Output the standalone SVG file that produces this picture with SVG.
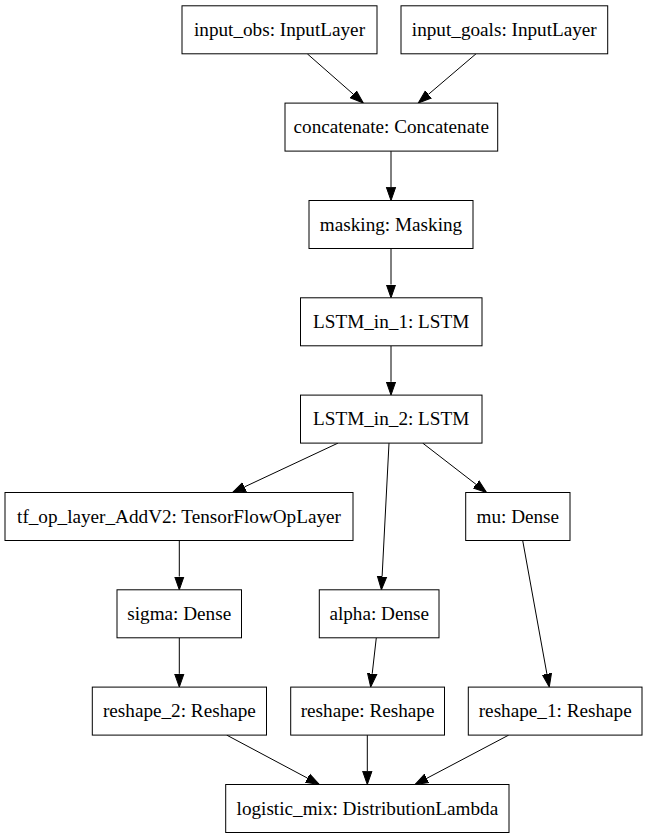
<svg xmlns="http://www.w3.org/2000/svg" width="647" height="839" viewBox="0 0 647 839">
<style>
.node rect{fill:#ffffff;stroke:#000000;stroke-width:1}
.node text{font-family:"Liberation Serif","Times New Roman",serif;font-size:19.2px;fill:#000000;text-anchor:middle}
.edges line{stroke:#000000;stroke-width:1;fill:none}
</style>
<defs>
<marker id="arrow" markerUnits="userSpaceOnUse" viewBox="0 -6 15 12" markerWidth="15" markerHeight="12" refX="0" refY="0" orient="auto">
<path d="M0,-4.67 L13.3,0 L0,4.67 Z" fill="#000000" stroke="#000000" stroke-width="1"/>
</marker>
</defs>
<rect x="0" y="0" width="647" height="839" fill="#ffffff"/>
<g class="edges">
<line x1="307.3" y1="53.8" x2="353.3" y2="94.2" marker-end="url(#arrow)"/>
<line x1="476" y1="53.8" x2="428.4" y2="94.4" marker-end="url(#arrow)"/>
<line x1="391" y1="151.1" x2="391" y2="187.2" marker-end="url(#arrow)"/>
<line x1="391" y1="248.5" x2="391" y2="284.5" marker-end="url(#arrow)"/>
<line x1="391" y1="345.8" x2="391" y2="381.8" marker-end="url(#arrow)"/>
<line x1="338" y1="443.1" x2="244.5" y2="486.9" marker-end="url(#arrow)"/>
<line x1="389" y1="443.1" x2="382.1" y2="576.5" marker-end="url(#arrow)"/>
<line x1="422.7" y1="443.1" x2="476.1" y2="484.4" marker-end="url(#arrow)"/>
<line x1="179.3" y1="540.5" x2="179.3" y2="576.5" marker-end="url(#arrow)"/>
<line x1="522.7" y1="540.5" x2="546.9" y2="673.9" marker-end="url(#arrow)"/>
<line x1="179.3" y1="637.8" x2="179.3" y2="673.8" marker-end="url(#arrow)"/>
<line x1="376.3" y1="637.8" x2="372.2" y2="673.8" marker-end="url(#arrow)"/>
<line x1="226.7" y1="735.1" x2="307.6" y2="778.2" marker-end="url(#arrow)"/>
<line x1="367.3" y1="735.1" x2="367.3" y2="771.2" marker-end="url(#arrow)"/>
<line x1="508.7" y1="735.1" x2="426.8" y2="778.3" marker-end="url(#arrow)"/>
</g>
<g id="input_obs" class="node"><rect x="182" y="5.8" width="195" height="48"/><text x="279.5" y="36">input_obs: InputLayer</text></g>
<g id="input_goals" class="node"><rect x="401" y="5.8" width="206.7" height="48"/><text x="504.3" y="36">input_goals: InputLayer</text></g>
<g id="concatenate" class="node"><rect x="285" y="103.1" width="212.7" height="48"/><text x="391.3" y="133.3">concatenate: Concatenate</text></g>
<g id="masking" class="node"><rect x="309" y="200.5" width="164" height="48"/><text x="391" y="230.7">masking: Masking</text></g>
<g id="LSTM_in_1" class="node"><rect x="300.5" y="297.8" width="181.5" height="48"/><text x="391.2" y="328">LSTM_in_1: LSTM</text></g>
<g id="LSTM_in_2" class="node"><rect x="300.5" y="395.1" width="181.5" height="48"/><text x="391.2" y="425.3">LSTM_in_2: LSTM</text></g>
<g id="tf_op_layer_AddV2" class="node"><rect x="5" y="492.5" width="348" height="48"/><text x="179" y="522.7">tf_op_layer_AddV2: TensorFlowOpLayer</text></g>
<g id="mu" class="node"><rect x="465.7" y="492.5" width="104.3" height="48"/><text x="517.8" y="522.7">mu: Dense</text></g>
<g id="sigma" class="node"><rect x="117" y="589.8" width="124.5" height="48"/><text x="179.2" y="620">sigma: Dense</text></g>
<g id="alpha" class="node"><rect x="319.3" y="589.8" width="119.7" height="48"/><text x="379.2" y="620">alpha: Dense</text></g>
<g id="reshape_2" class="node"><rect x="92.3" y="687.1" width="174.2" height="48"/><text x="179.4" y="717.3">reshape_2: Reshape</text></g>
<g id="reshape" class="node"><rect x="290.7" y="687.1" width="153.8" height="48"/><text x="367.6" y="717.3">reshape: Reshape</text></g>
<g id="reshape_1" class="node"><rect x="468.3" y="687.1" width="173.7" height="48"/><text x="555.2" y="717.3">reshape_1: Reshape</text></g>
<g id="logistic_mix" class="node"><rect x="225.7" y="784.5" width="283.3" height="48"/><text x="367.4" y="814.7">logistic_mix: DistributionLambda</text></g>
</svg>
